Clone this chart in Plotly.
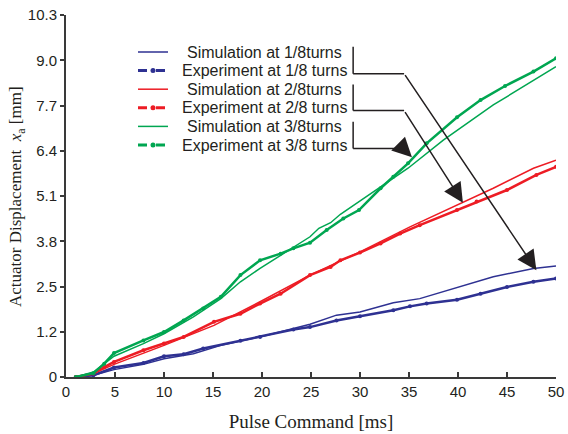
import plotly.graph_objects as go

# ---- data ----
green_exp_x = [1, 2.8, 3.9, 4.9, 7.9, 10, 12, 14, 15.8, 17.8, 19.8, 21.9, 23.2, 24.9, 26.6, 28.3, 29.9, 32.1, 33.4, 34.9, 36.8, 39.9, 42.3, 44.8, 47.7, 50]
green_exp_y = [0, 0.11, 0.38, 0.68, 1.04, 1.28, 1.61, 1.95, 2.28, 2.9, 3.32, 3.51, 3.66, 3.82, 4.18, 4.51, 4.75, 5.37, 5.70, 6.08, 6.65, 7.39, 7.88, 8.28, 8.69, 9.07]
green_sim_x = [1, 2.8, 4.9, 7.9, 10, 13, 15.8, 17.8, 19.8, 23.2, 24.9, 25.8, 27, 28, 29.9, 32.1, 34.9, 38.5, 43.6, 50]
green_sim_y = [0, 0.14, 0.59, 0.95, 1.23, 1.71, 2.23, 2.71, 3.09, 3.70, 3.99, 4.23, 4.39, 4.63, 4.99, 5.39, 5.94, 6.74, 7.74, 8.83]

red_exp_x = [1, 2.8, 3.9, 4.9, 7.9, 10, 12, 15.1, 17.8, 19.8, 21.9, 24.9, 27, 28, 30, 32.1, 34.1, 36.1, 39.9, 41.9, 45, 48, 50]
red_exp_y = [0, 0.1, 0.28, 0.43, 0.76, 0.95, 1.14, 1.57, 1.80, 2.09, 2.37, 2.90, 3.13, 3.32, 3.54, 3.80, 4.08, 4.32, 4.75, 4.99, 5.32, 5.75, 5.98]
red_sim_x = [1, 2.8, 4.9, 10, 15.1, 19.8, 24.9, 30, 35.1, 40.2, 43.6, 47.7, 50]
red_sim_y = [0, 0.1, 0.36, 0.90, 1.47, 2.14, 2.90, 3.56, 4.27, 4.94, 5.37, 5.94, 6.17]

blue_exp_x = [1, 2.8, 4.9, 7.9, 10, 12, 14, 17.8, 19.8, 23.2, 24.9, 27.6, 30, 33.4, 35.1, 36.8, 39.9, 42.3, 45, 47.7, 50]
blue_exp_y = [0, 0.05, 0.27, 0.40, 0.59, 0.65, 0.81, 1.03, 1.14, 1.35, 1.42, 1.61, 1.73, 1.90, 2.01, 2.09, 2.20, 2.37, 2.56, 2.71, 2.80]
blue_sim_x = [1, 2.8, 4.9, 7.9, 10, 13, 15.8, 19.8, 24.9, 27.6, 30, 33.4, 36.1, 39.9, 43.6, 47.7, 50]
blue_sim_y = [0, 0.05, 0.21, 0.36, 0.52, 0.66, 0.90, 1.14, 1.50, 1.76, 1.85, 2.11, 2.23, 2.55, 2.85, 3.09, 3.16]

y_tickvals = [0, 1.2875, 2.575, 3.8625, 5.15, 6.4375, 7.725, 9.0125, 10.3]
y_ticktext = ["0", "1.2", "2.5", "3.8", "5.1", "6.4", "7.7", "9.0", "10.3"]
x_tickvals = [0, 5, 10, 15, 20, 25, 30, 35, 40, 45, 50]

legend_names = ["Simulation at 1/8turns", "Experiment at 1/8 turns",
                "Simulation at 2/8turns", "Experiment at 2/8 turns",
                "Simulation at 3/8turns", "Experiment at 3/8 turns"]

# callout brackets (data coords): bracket x, top y, bottom y, elbow x, arrow tip x, tip y
brackets = [
    (29.3, 9.40, 8.63, 34.5, 48.0, 3.04),
    (29.3, 8.32, 7.58, 34.5, 40.5, 4.96),
    (29.3, 7.26, 6.50, 34.4, 35.3, 6.25),
]

BLUE = "#2E3192"
RED = "#ED1C24"
GREEN = "#00A651"
INK = "#231F20"

W, H = 568, 434
ML, MR, MT, MB = 66, 12, 15, 57
PW, PH = W - ML - MR, H - MT - MB


def px2paper(px, py):
    return (px - ML) / PW, (H - MB - py) / PH


fig = go.Figure()
series = [
    (blue_sim_x, blue_sim_y, BLUE, False),
    (blue_exp_x, blue_exp_y, BLUE, True),
    (red_sim_x, red_sim_y, RED, False),
    (red_exp_x, red_exp_y, RED, True),
    (green_sim_x, green_sim_y, GREEN, False),
    (green_exp_x, green_exp_y, GREEN, True),
]
legend_rows_py = [52, 70.6, 89.2, 107.8, 126.4, 145]
for i, ((xs, ys, col, exp), name) in enumerate(zip(series, legend_names)):
    if exp:
        fig.add_trace(go.Scatter(x=xs, y=ys, name=name, mode="lines+markers",
                                 line=dict(color=col, width=2.5),
                                 marker=dict(color=col, size=4), showlegend=False))
    else:
        fig.add_trace(go.Scatter(x=xs, y=ys, name=name, mode="lines",
                                 line=dict(color=col, width=1.5), showlegend=False))
    # manual legend entry
    py = legend_rows_py[i]
    x0, yy = px2paper(138, py)
    x1, _ = px2paper(168, py)
    fig.add_shape(type="line", xref="paper", yref="paper", x0=x0, x1=x1, y0=yy, y1=yy,
                  line=dict(color=col, width=3 if exp else 1.5, dash="dash" if exp else "solid"))
    if exp:
        cx, _ = px2paper(153, py)
        fig.add_shape(type="circle", xref="paper", yref="paper",
                      x0=cx - 2.5 / PW, x1=cx + 2.5 / PW, y0=yy - 2.5 / PH, y1=yy + 2.5 / PH,
                      fillcolor=col, line=dict(color=col, width=0))
    tx, ty = px2paper(264, py)
    fig.add_annotation(x=tx, y=ty, xref="paper", yref="paper", text=name, showarrow=False,
                       xanchor="center", yanchor="middle",
                       font=dict(family="Liberation Sans, Arial", size=16, color=INK))

for bx, ytop, ybot, ex, tx, ty in brackets:
    fig.add_shape(type="line", xref="x", yref="y", x0=bx, y0=ytop, x1=bx, y1=ybot,
                  line=dict(color=INK, width=1.5))
    fig.add_shape(type="line", xref="x", yref="y", x0=bx, y0=ybot, x1=ex, y1=ybot,
                  line=dict(color=INK, width=1.5))
    fig.add_annotation(x=tx, y=ty, ax=ex, ay=ybot, xref="x", yref="y", axref="x", ayref="y",
                       text="", showarrow=True, arrowhead=2, arrowsize=2.6, arrowwidth=1.5,
                       arrowcolor=INK)

# y-axis title as a rotated annotation
ytx, yty = px2paper(17, 197)
fig.add_annotation(x=ytx, y=yty, xref="paper", yref="paper", textangle=-90,
                   text="Actuator Displacement  <i>x</i><sub>a</sub> [mm]", showarrow=False,
                   xanchor="center", yanchor="middle",
                   font=dict(family="Liberation Serif, Times New Roman", size=17, color=INK))

fig.update_layout(
    width=W, height=H,
    margin=dict(l=ML, r=MR, t=MT, b=MB),
    paper_bgcolor="white", plot_bgcolor="white",
    showlegend=False,
    font=dict(family="Liberation Sans, Arial", color=INK),
)
fig.update_xaxes(range=[0, 50], tickvals=x_tickvals, showgrid=False, zeroline=False,
                 showline=True, linecolor="#3a3a3a", linewidth=2, automargin=False,
                 ticks="inside", ticklen=5, tickcolor="#3a3a3a", tickwidth=1.5,
                 tickfont=dict(size=15, family="Liberation Sans, Arial", color=INK),
                 title=dict(text="Pulse Command [ms]", standoff=16,
                            font=dict(family="Liberation Serif, Times New Roman", size=19, color=INK)))
fig.update_yaxes(range=[0, 10.3], tickvals=y_tickvals, ticktext=y_ticktext, showgrid=False, zeroline=False,
                 showline=True, linecolor="#3a3a3a", linewidth=2, automargin=False,
                 ticks="outside", ticklen=4, tickcolor="#3a3a3a", tickwidth=1.5,
                 tickfont=dict(size=15, family="Liberation Sans, Arial", color=INK))

fig.write_html("out.html")
